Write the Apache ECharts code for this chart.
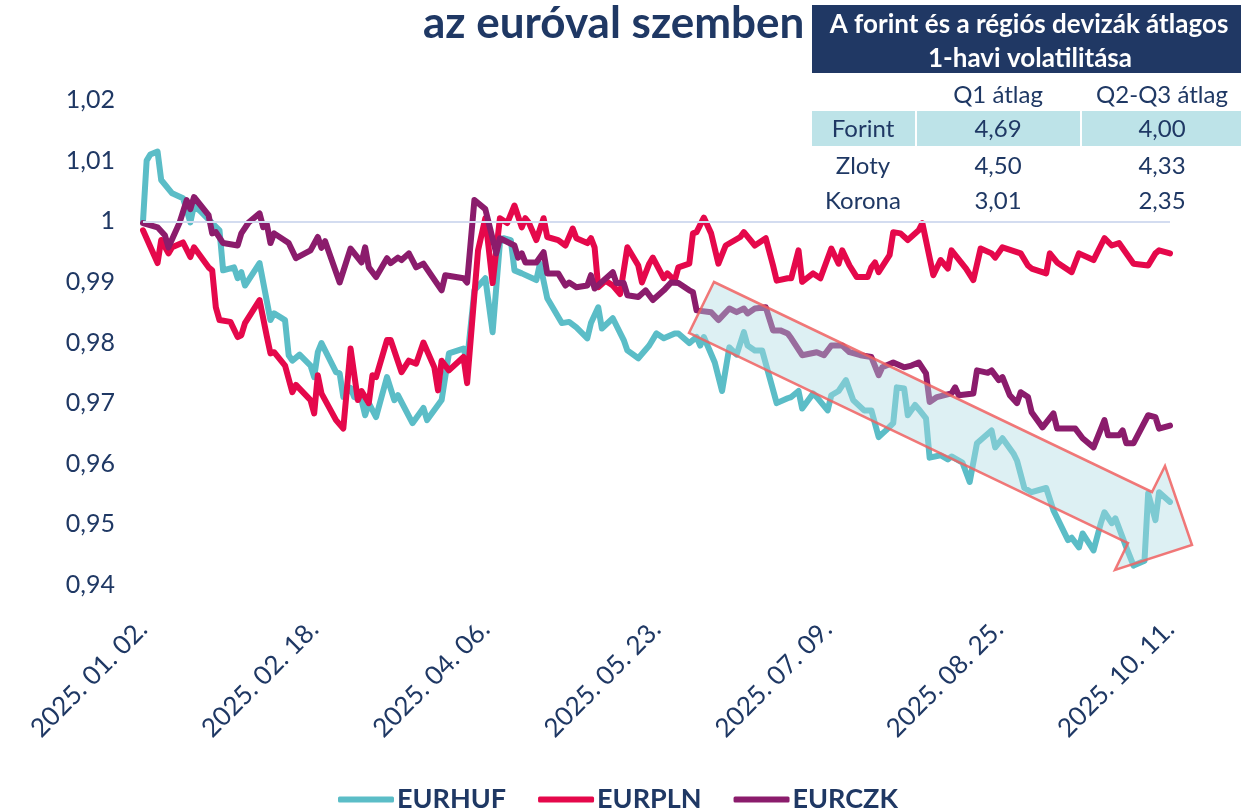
<!DOCTYPE html>
<html>
<head>
<meta charset="utf-8">
<title>EUR árfolyamok</title>
<script src="https://cdn.jsdelivr.net/npm/echarts@6/dist/echarts.min.js"></script>
<style>
  html, body { margin: 0; padding: 0; background: #fff; }
  #chart { width: 1241px; height: 809px; }
</style>
</head>
<body>
<div id="chart"></div>
<script>
// napok 2025.01.02-tól, árfolyam az év elejéhez viszonyítva
const hufDays = [0, 1, 2, 4, 5, 8, 11, 13, 14, 16, 19, 21, 22, 25, 26, 27, 28, 32, 35, 36, 39, 40, 41, 43, 46, 47, 48, 49, 53, 54, 55, 57, 58, 60, 61, 62, 64, 67, 69, 70, 74, 77, 78, 82, 84, 88, 89, 91, 94, 96, 98, 99, 101, 102, 104, 108, 109, 111, 115, 117, 119, 122, 123, 125, 126, 129, 132, 133, 136, 139, 141, 143, 146, 147, 150, 152, 153, 154, 157, 159, 161, 163, 165, 166, 168, 170, 174, 177, 178, 180, 181, 184, 185, 188, 189, 191, 193, 195, 198, 200, 202, 204, 206, 207, 209, 210, 212, 213, 215, 216, 219, 221, 222, 225, 227, 229, 233, 234, 236, 239, 240, 242, 244, 248, 250, 254, 255, 257, 258, 261, 263, 264, 266, 267, 270, 272, 275, 276, 278, 279, 282];
const hufVals = [1.000, 1.010, 1.011, 1.0115, 1.0068, 1.0046, 1.0038, 0.9998, 1.0026, 1.0015, 0.9997, 0.9985, 0.9919, 0.9924, 0.9906, 0.9916, 0.9894, 0.9931, 0.9837, 0.9848, 0.9837, 0.9779, 0.977, 0.978, 0.9762, 0.9743, 0.9784, 0.9799, 0.9751, 0.9749, 0.971, 0.9725, 0.971, 0.9705, 0.968, 0.970, 0.9677, 0.9743, 0.9705, 0.9713, 0.9667, 0.9692, 0.9672, 0.9705, 0.9782, 0.979, 0.977, 0.9886, 0.9906, 0.9817, 0.9964, 0.9972, 0.9969, 0.9919, 0.9914, 0.9903, 0.993, 0.9873, 0.9832, 0.9834, 0.9825, 0.9807, 0.9832, 0.9858, 0.9823, 0.984, 0.9804, 0.9787, 0.9774, 0.9795, 0.9815, 0.9807, 0.9815, 0.9815, 0.9799, 0.9809, 0.9795, 0.9809, 0.9767, 0.972, 0.9792, 0.978, 0.9817, 0.9795, 0.9787, 0.9787, 0.970, 0.9708, 0.971, 0.972, 0.9691, 0.9716, 0.971, 0.9688, 0.9713, 0.972, 0.9738, 0.9705, 0.9688, 0.9688, 0.9644, 0.9655, 0.9667, 0.9726, 0.9724, 0.968, 0.9697, 0.969, 0.9675, 0.961, 0.9614, 0.9607, 0.9612, 0.9602, 0.957, 0.9634, 0.9655, 0.9627, 0.9642, 0.9617, 0.9605, 0.956, 0.9553, 0.956, 0.9523, 0.9474, 0.9478, 0.9462, 0.9485, 0.9457, 0.9502, 0.952, 0.9502, 0.951, 0.9462, 0.9432, 0.944, 0.9551, 0.9507, 0.9553, 0.9537];

const plnDays = [0, 4, 5, 7, 8, 11, 13, 14, 18, 19, 20, 21, 24, 26, 27, 28, 32, 34, 35, 36, 39, 41, 42, 46, 47, 48, 49, 53, 55, 57, 59, 60, 62, 63, 64, 67, 68, 71, 73, 75, 77, 80, 81, 82, 84, 88, 89, 92, 94, 96, 98, 100, 102, 104, 105, 106, 108, 110, 111, 114, 116, 118, 119, 122, 123, 124, 125, 127, 129, 131, 133, 136, 137, 139, 140, 143, 144, 146, 147, 150, 151, 152, 154, 156, 158, 160, 164, 165, 168, 171, 173, 174, 177, 178, 180, 181, 184, 186, 189, 191, 192, 194, 196, 199, 200, 201, 202, 205, 206, 208, 210, 213, 214, 217, 219, 221, 222, 226, 228, 230, 233, 234, 236, 241, 243, 244, 248, 249, 251, 255, 257, 261, 264, 266, 268, 272, 276, 278, 279, 282];
const plnVals = [0.9985, 0.9931, 0.9969, 0.9947, 0.9957, 0.9965, 0.9941, 0.9957, 0.9924, 0.9919, 0.9858, 0.9837, 0.9834, 0.9809, 0.9812, 0.9832, 0.987, 0.981, 0.9782, 0.9784, 0.9762, 0.9718, 0.973, 0.9705, 0.9683, 0.9746, 0.9716, 0.9672, 0.9658, 0.979, 0.9705, 0.972, 0.970, 0.9746, 0.9743, 0.9804, 0.9804, 0.9751, 0.977, 0.9765, 0.980, 0.9759, 0.9721, 0.977, 0.9754, 0.9776, 0.9733, 0.9952, 1.0005, 0.9898, 1.0005, 0.9997, 1.0026, 0.999, 1.0005, 0.9997, 0.9969, 1.0005, 0.9974, 0.9969, 0.996, 0.9988, 0.9972, 0.9964, 0.9972, 0.9957, 0.9891, 0.9902, 0.9894, 0.988, 0.9957, 0.9927, 0.9899, 0.993, 0.994, 0.9906, 0.9914, 0.9902, 0.9924, 0.993, 0.998, 0.9982, 1.0006, 0.998, 0.993, 0.996, 0.9974, 0.9982, 0.996, 0.9972, 0.9927, 0.9902, 0.9906, 0.9906, 0.9952, 0.990, 0.9914, 0.9906, 0.9955, 0.993, 0.9952, 0.9927, 0.9908, 0.9908, 0.9924, 0.9932, 0.9916, 0.9944, 0.9982, 0.998, 0.9969, 0.9985, 0.9997, 0.9911, 0.9936, 0.9922, 0.9952, 0.9922, 0.9903, 0.9955, 0.9947, 0.994, 0.9957, 0.9947, 0.9927, 0.9922, 0.9914, 0.9947, 0.9932, 0.9916, 0.9947, 0.9936, 0.9972, 0.996, 0.9964, 0.993, 0.9927, 0.9947, 0.9952, 0.9947];

const czkDays = [0, 4, 6, 7, 10, 12, 13, 14, 18, 19, 20, 22, 26, 27, 29, 32, 33, 34, 35, 36, 40, 42, 46, 48, 49, 50, 54, 57, 60, 61, 62, 64, 67, 68, 70, 71, 73, 75, 77, 82, 83, 88, 89, 91, 94, 97, 98, 102, 103, 104, 105, 108, 110, 111, 114, 116, 117, 119, 122, 123, 124, 126, 129, 130, 132, 133, 136, 138, 140, 143, 145, 147, 150, 151, 152, 156, 158, 161, 163, 165, 166, 168, 171, 173, 175, 177, 178, 181, 185, 187, 189, 192, 194, 197, 200, 202, 203, 206, 209, 211, 213, 215, 216, 218, 222, 223, 224, 228, 229, 232, 233, 235, 236, 238, 240, 241, 243, 244, 247, 250, 251, 254, 256, 258, 261, 264, 265, 268, 269, 270, 272, 276, 278, 279, 282];
const czkVals = [0.9997, 0.999, 0.9977, 0.9957, 0.9997, 1.0035, 1.002, 1.004, 1.001, 0.998, 0.9982, 0.9964, 0.996, 0.998, 0.9998, 1.0013, 0.999, 0.9995, 0.9964, 0.998, 0.9964, 0.9939, 0.9952, 0.9974, 0.9956, 0.9967, 0.9899, 0.9955, 0.9932, 0.9957, 0.9924, 0.9908, 0.9939, 0.9931, 0.994, 0.9936, 0.9947, 0.9924, 0.993, 0.9886, 0.9911, 0.9906, 0.9899, 1.0035, 1.002, 0.9947, 0.9972, 0.996, 0.994, 0.9947, 0.9932, 0.9932, 0.9949, 0.9914, 0.9914, 0.9894, 0.9899, 0.9891, 0.9894, 0.9911, 0.9889, 0.990, 0.9916, 0.9898, 0.9898, 0.9878, 0.9875, 0.9886, 0.987, 0.9886, 0.9899, 0.9898, 0.9886, 0.9883, 0.9853, 0.985, 0.9837, 0.9856, 0.985, 0.9856, 0.9848, 0.9856, 0.9858, 0.982, 0.982, 0.9815, 0.9807, 0.9779, 0.9784, 0.9779, 0.9795, 0.9795, 0.9784, 0.9779, 0.9776, 0.9746, 0.9759, 0.9767, 0.9759, 0.9762, 0.9767, 0.9749, 0.9702, 0.971, 0.9716, 0.9726, 0.9713, 0.9716, 0.9754, 0.975, 0.9754, 0.9738, 0.9743, 0.9713, 0.970, 0.9718, 0.971, 0.9685, 0.966, 0.9683, 0.9658, 0.9658, 0.9658, 0.9642, 0.9627, 0.9672, 0.9647, 0.9647, 0.9655, 0.9634, 0.9634, 0.968, 0.9677, 0.9658, 0.9663];

const seriesNames = ["EURHUF", "EURPLN", "EURCZK"];
const seriesColors = ["#5bbdc7", "#e5084b", "#8b1c6c"];

const tableHead = ["Q1 átlag", "Q2-Q3 átlag"];
const tableRows = ["Forint", "Zloty", "Korona"];
const tableQ1 = ["4,69", "4,50", "3,01"];
const tableQ23 = ["4,00", "4,33", "2,35"];

const startDate = Date.UTC(2025, 0, 2);
const navy = "#1f3864";
const font = "Lato, 'Noto Sans', sans-serif";

function dayLabel(d) {
  const dt = new Date(startDate + Math.round(d) * 86400000);
  const mm = String(dt.getUTCMonth() + 1).padStart(2, "0");
  const dd = String(dt.getUTCDate()).padStart(2, "0");
  return dt.getUTCFullYear() + ". " + mm + ". " + dd + ".";
}

function pairs(days, vals) {
  return days.map((d, i) => [d, vals[i]]);
}

const seriesData = [pairs(hufDays, hufVals), pairs(plnDays, plnVals), pairs(czkDays, czkVals)];

const chart = echarts.init(document.getElementById("chart"));

// táblázat a jobb felső sarokban
const colX = [863, 998, 1162];
const rowY = [129, 166, 201];
const tableGraphic = [
  { type: "rect", shape: { x: 812, y: 5, width: 429, height: 68 }, style: { fill: "#203864" } },
  { type: "text", x: 1029, y: 25, style: { text: "A forint és a régiós devizák átlagos", fill: "#fff", font: "bold 26px " + font, textAlign: "center", textVerticalAlign: "middle" } },
  { type: "text", x: 1030, y: 59, style: { text: "1-havi volatilitása", fill: "#fff", font: "bold 26px " + font, textAlign: "center", textVerticalAlign: "middle" } },
  { type: "rect", shape: { x: 812, y: 111, width: 103, height: 35 }, style: { fill: "#bde3e8" } },
  { type: "rect", shape: { x: 917, y: 111, width: 163, height: 35 }, style: { fill: "#bde3e8" } },
  { type: "rect", shape: { x: 1082, y: 111, width: 159, height: 35 }, style: { fill: "#bde3e8" } }
];
tableHead.forEach((t, i) => {
  tableGraphic.push({ type: "text", x: colX[i + 1], y: 95, style: { text: t, fill: navy, font: "24px " + font, textAlign: "center", textVerticalAlign: "middle" } });
});
tableRows.forEach((t, i) => {
  [t, tableQ1[i], tableQ23[i]].forEach((s, j) => {
    tableGraphic.push({ type: "text", x: colX[j], y: rowY[i], style: { text: s, fill: navy, font: "24px " + font, textAlign: "center", textVerticalAlign: "middle" } });
  });
});

// kiemelő nyíl
const arrowGraphic = {
  type: "polygon",
  z: 100,
  shape: { points: [[714, 282], [1152, 492], [1165, 466], [1192, 545], [1115, 570], [1128, 543], [689, 333]] },
  style: { fill: "rgba(174, 220, 226, 0.42)", stroke: "rgba(240, 96, 96, 0.85)", lineWidth: 2.5 }
};

const option = {
  animation: false,
  backgroundColor: "#fff",
  title: {
    text: "az euróval szemben",
    left: 418,
    top: -3,
    textStyle: { color: navy, fontSize: 44, fontWeight: "bold", fontFamily: font }
  },
  legend: {
    data: seriesNames,
    icon: "roundRect",
    left: 333,
    top: 781,
    itemWidth: 56,
    itemHeight: 6,
    itemGap: 32,
    textStyle: { color: navy, fontSize: 27, fontWeight: "bold", fontFamily: font, padding: [0, 0, 0, -2] }
  },
  grid: { left: 143, right: 71, top: 100, bottom: 224 },
  xAxis: {
    type: "value",
    min: 0,
    max: 282,
    interval: 47,
    axisLine: { show: false },
    axisTick: { show: false },
    splitLine: { show: false },
    axisLabel: {
      rotate: 45,
      margin: 40,
      color: navy,
      fontSize: 26,
      fontFamily: font,
      formatter: dayLabel,
      showMaxLabel: true
    }
  },
  yAxis: {
    type: "value",
    min: 0.94,
    max: 1.02,
    interval: 0.01,
    axisLine: { show: false },
    axisTick: { show: false },
    splitLine: { show: false },
    axisLabel: {
      margin: 28,
      color: navy,
      fontSize: 25,
      fontFamily: font,
      formatter: (v) => String(Math.round(v * 100) / 100).replace(".", ",")
    }
  },
  series: seriesNames.map((name, i) => ({
    name: name,
    type: "line",
    data: seriesData[i],
    symbol: "none",
    color: seriesColors[i],
    lineStyle: { width: 6, cap: "round", join: "round" },
    markLine: i === 0 ? {
      silent: true,
      symbol: "none",
      label: { show: false },
      lineStyle: { color: "#d3dcf0", width: 2, type: "solid" },
      data: [{ yAxis: 1 }]
    } : undefined
  })),
  graphic: tableGraphic.concat([arrowGraphic])
};

chart.setOption(option);
</script>
</body>
</html>
